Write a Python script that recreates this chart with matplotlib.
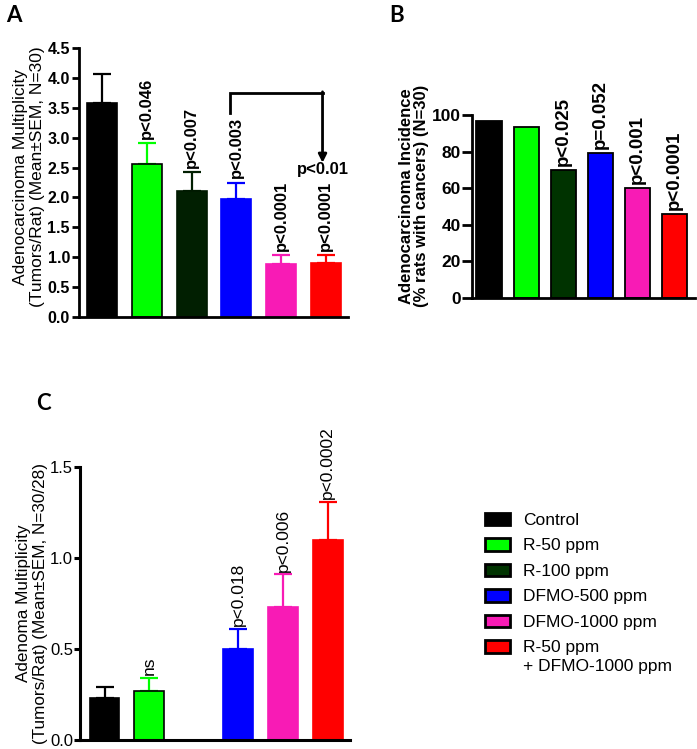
#!/usr/bin/env python3

import matplotlib
matplotlib.use("Agg")
import matplotlib.pyplot as plt
from matplotlib.patches import Patch


W, H = 697, 749

plt.rcParams["font.family"] = ["Liberation Sans", "DejaVu Sans"]

GROUPS = ["Control", "R-50 ppm", "R-100 ppm", "DFMO-500 ppm",
          "DFMO-1000 ppm", "R-50 ppm"]
LAST_LINE = "+ DFMO-1000 ppm"
COLORS = ["#000000", "#00ff00", "#003300", "#0000ff", "#f81bb5", "#ff0000"]

# panel A: adenocarcinoma multiplicity
A_MEAN = [3.58, 2.56, 2.11, 1.97, 0.89, 0.90]
A_SEM = [0.48, 0.35, 0.32, 0.28, 0.14, 0.14]
A_P = ["", "p<0.046", "p<0.007", "p<0.003", "p<0.0001", "p<0.0001"]
A_EDGES = ["#000000", "#000000", "#001a00", "#0000ff", "#f81bb5", "#ff0000"]
A_FILL = ["#000000", "#00ff00", "#011f01", "#0000ff", "#f81bb5", "#ff0000"]

# panel B: adenocarcinoma incidence (%)
B_PCT = [96.7, 93.3, 70.0, 79.0, 60.0, 46.0]
B_P = ["", "", "p<0.025", "p=0.052", "p<0.001", "p<0.0001"]

# panel C: adenoma multiplicity (R-100 group not shown)
C_IDX = [0, 1, 3, 4, 5]
C_MEAN = [0.23, 0.27, 0.50, 0.73, 1.10]
C_SEM = [0.06, 0.07, 0.11, 0.18, 0.21]
C_P = ["", "ns", "p<0.018", "p<0.006", "p<0.0002"]
C_EDGES = ["#000000", "#000000", "#0000ff", "#f81bb5", "#ff0000"]


def px_axes(fig, left, right, top, bottom):
    return fig.add_axes([left / W, 1 - bottom / H, (right - left) / W, (bottom - top) / H])


def fig_text(fig, x, y, s, **kw):
    fig.text(x / W, 1 - y / H, s, **kw)


def style_axes(ax, lw, tick_len, pad):
    for side in ["top", "right"]:
        ax.spines[side].set_visible(False)
    for side in ["left", "bottom"]:
        ax.spines[side].set_linewidth(lw)
    ax.tick_params(axis="y", width=lw, length=tick_len, pad=pad)
    ax.tick_params(axis="x", length=0)
    ax.set_xticks([])


def draw_bars(ax, xs, means, sems, fills, edges, width, edge_lw):
    ax.bar(xs, means, width=width, color=fills, edgecolor=edges,
           linewidth=edge_lw, zorder=2)
    if sems is None:
        return
    for x, m, s, c in zip(xs, means, sems, fills):
        ax.errorbar(x, m, yerr=[[0], [s]], color=c, elinewidth=1.6,
                    capsize=6.5, capthick=1.6, zorder=1)


def p_labels(ax, xs, tops, labels, pad, size, weight):
    for x, t, lab in zip(xs, tops, labels):
        if lab:
            ax.annotate(lab, (x, t), xytext=(0, pad), textcoords="offset points",
                        rotation=90, ha="center", va="bottom",
                        fontsize=size, fontweight=weight)


fig = plt.figure(figsize=(W / 100, H / 100), dpi=100)

# ---- A ----
axA = px_axes(fig, 79, 348, 48, 317)
xs = list(range(len(A_MEAN)))
draw_bars(axA, xs, A_MEAN, A_SEM, A_FILL, A_EDGES, 0.67, 1.2)
axA.set_xlim(-0.52, 5.5)
axA.set_ylim(0, 4.5)
axA.set_yticks([i * 0.5 for i in range(10)])
axA.set_yticklabels([f"{i * 0.5:.1f}" for i in range(10)], fontsize=11.5, fontweight="bold")
style_axes(axA, 2, 5, 1.5)
p_labels(axA, xs, [m + s for m, s in zip(A_MEAN, A_SEM)], A_P, 3, 12, "bold")

BRACKET_Y = 3.75
left_x, right_x = 2.87, 4.93
axA.plot([left_x, left_x, right_x], [3.41, BRACKET_Y, BRACKET_Y], color="black", lw=2,
         solid_joinstyle="miter", clip_on=False)
axA.annotate("", xy=(right_x, 2.58), xytext=(right_x, BRACKET_Y + 0.017),
             arrowprops=dict(arrowstyle="-|>", color="black", lw=2,
                             mutation_scale=12, shrinkA=0, shrinkB=0))
axA.text(right_x, 2.46, "p<0.01", ha="center", va="center", fontsize=12, fontweight="bold")
fig_text(fig, 29, 177, "Adenocarcinoma Multiplicity\n(Tumors/Rat) (Mean\u00b1SEM, N=30)",
         rotation=90, ha="center", va="center", fontsize=12.5, multialignment="center",
         linespacing=1.2)
fig_text(fig, 14, 15, "A", fontsize=16, fontweight="bold", ha="center", va="center",
         family=["Lato", "DejaVu Sans"])

# ---- B ----
axB = px_axes(fig, 472, 695, 115, 298)
draw_bars(axB, xs, B_PCT, None, COLORS, ["#000000"] * 6, 0.68, 1.3)
axB.set_xlim(-0.46, 5.55)
axB.set_ylim(0, 100)
axB.set_yticks(range(0, 101, 20))
axB.set_yticklabels([str(v) for v in range(0, 101, 20)], fontsize=12.5, fontweight="bold")
style_axes(axB, 2, 7, 1)
p_labels(axB, xs, B_PCT, B_P, 3, 13.5, "bold")
fig_text(fig, 414, 196, "Adenocarcinoma Incidence\n(% rats with cancers) (N=30)",
         rotation=90, ha="center", va="center", fontsize=12, fontweight="bold",
         multialignment="center", linespacing=1.05)
fig_text(fig, 397, 15, "B", fontsize=16, fontweight="bold", ha="center", va="center",
         family=["Lato", "DejaVu Sans"])

# ---- C ----
axC = px_axes(fig, 80, 350, 467, 740)
draw_bars(axC, C_IDX, C_MEAN, C_SEM, [COLORS[i] for i in C_IDX], C_EDGES, 0.67, 1.2)
axC.set_xlim(-0.55, 5.5)
axC.set_ylim(0, 1.5)
axC.set_yticks([0, 0.5, 1.0, 1.5])
axC.set_yticklabels(["0.0", "0.5", "1.0", "1.5"], fontsize=12)
style_axes(axC, 2.2, 4, 1)
p_labels(axC, C_IDX, [m + s for m, s in zip(C_MEAN, C_SEM)], C_P, 2, 12.5, "normal")
fig_text(fig, 32, 603, "Adenoma Multiplicity\n(Tumors/Rat) (Mean\u00b1SEM, N=30/28)",
         rotation=90, ha="center", va="center", fontsize=12.3, multialignment="center",
         linespacing=1.1)
fig_text(fig, 43, 404, "C", fontsize=16, fontweight="bold", ha="center", va="center",
         family=["Lato", "DejaVu Sans"])

# ---- legend ----
handles = [Patch(facecolor=c, edgecolor="black", linewidth=2) for c in COLORS]
fig.legend(handles, GROUPS, loc="upper left", bbox_to_anchor=(476 / W, 1 - 504 / H),
           frameon=False, fontsize=12.5, handlelength=1.45, handleheight=0.72,
           handletextpad=0.75, labelspacing=0.59, borderpad=0)
fig_text(fig, 523, 666, LAST_LINE, fontsize=12.5, ha="left", va="center")

fig.savefig("out.png", dpi=100)
